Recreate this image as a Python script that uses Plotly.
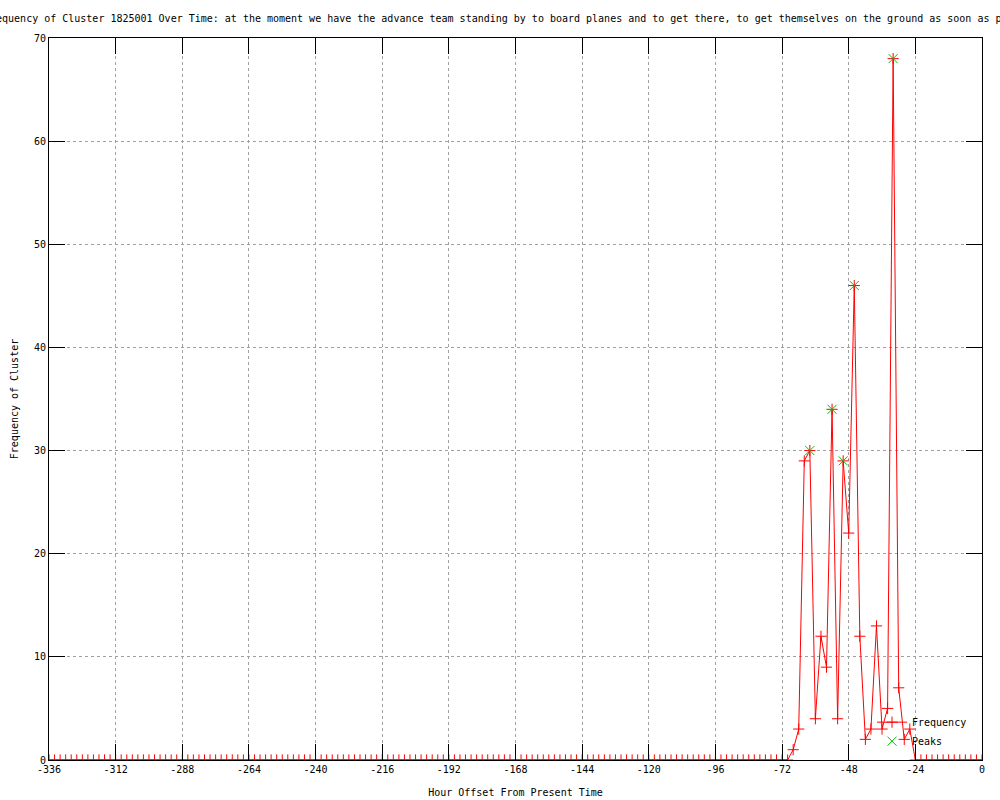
import plotly.graph_objects as go

# Hour offsets (every 2 hours from -336 to 0)
hours = list(range(-336, 1, 2))

frequency = [
    0, 0, 0, 0, 0, 0, 0, 0, 0, 0, 0, 0, 0, 0, 0, 0, 0, 0, 0, 0,
    0, 0, 0, 0, 0, 0, 0, 0, 0, 0, 0, 0, 0, 0, 0, 0, 0, 0, 0, 0,
    0, 0, 0, 0, 0, 0, 0, 0, 0, 0, 0, 0, 0, 0, 0, 0, 0, 0, 0, 0,
    0, 0, 0, 0, 0, 0, 0, 0, 0, 0, 0, 0, 0, 0, 0, 0, 0, 0, 0, 0,
    0, 0, 0, 0, 0, 0, 0, 0, 0, 0, 0, 0, 0, 0, 0, 0, 0, 0, 0, 0,
    0, 0, 0, 0, 0, 0, 0, 0, 0, 0, 0, 0, 0, 0, 0, 0, 0, 0, 0, 0,
    0, 0, 0, 0, 0, 0, 0, 0, 0, 0, 0, 0, 0, 0,
    1, 3, 29, 30, 4, 12, 9, 34, 4, 29, 22, 46, 12, 2, 3, 13, 3, 5, 68, 7, 2, 3,
    0, 0, 0, 0, 0, 0, 0, 0, 0, 0, 0, 0, 0,
]

peak_hours = [-62, -54, -50, -46, -32]
peak_values = [30, 34, 29, 46, 68]

x_ticks = [-336, -312, -288, -264, -240, -216, -192, -168, -144, -120, -96, -72, -48, -24, 0]
y_ticks = [0, 10, 20, 30, 40, 50, 60, 70]

title_text = ("Frequency of Cluster 1825001 Over Time: at the moment we have the advance team "
              "standing by to board planes and to get there, to get themselves on the ground "
              "as soon as possible")

FONT = "DejaVu Sans Mono"

fig = go.Figure()
fig.add_trace(go.Scatter(
    x=hours, y=frequency, mode="lines+markers", name="Frequency",
    line=dict(color="#ff0000", width=1),
    marker=dict(symbol="cross-thin", size=8, line=dict(color="#ff0000", width=1), color="#ff0000"),
))
fig.add_trace(go.Scatter(
    x=peak_hours, y=peak_values, mode="markers", name="Peaks",
    marker=dict(symbol="x-thin", size=9, line=dict(color="#00c000", width=1), color="#00c000"),
))

axis_common = dict(
    showline=True, linecolor="black", linewidth=1, mirror="allticks",
    ticks="inside", ticklen=16, tickcolor="black", tickwidth=1,
    showgrid=True, gridcolor="#a0a0a0", griddash="3px,3px", gridwidth=1,
    zeroline=False, automargin=False, tickfont=dict(family=FONT, size=10, color="black"),
)

fig.update_xaxes(range=[-336, 0], tickvals=x_ticks, ticktext=[str(v) for v in x_ticks],
                 title=dict(text="Hour Offset From Present Time", font=dict(family=FONT, size=10, color="black"), standoff=14),
                 **axis_common)
fig.update_yaxes(range=[0, 70], tickvals=y_ticks,
                 title=dict(text="Frequency of Cluster", font=dict(family=FONT, size=10, color="black"), standoff=13),
                 **axis_common)

fig.update_layout(
    width=1000, height=800,
    margin=dict(l=49, r=18, t=38, b=40),
    paper_bgcolor="white", plot_bgcolor="white",
    font=dict(family=FONT, size=10, color="black"),
    legend=dict(x=(872 - 49) / 933, xanchor="left", y=0.006, yanchor="bottom",
                bgcolor="rgba(0,0,0,0)", font=dict(family=FONT, size=10, color="black"),
                tracegroupgap=0, itemwidth=30),
    showlegend=True,
)
fig.add_annotation(text=title_text, xref="paper", yref="paper",
                   x=(-18 - 49) / 933, xanchor="left", y=1 + 20 / 722, yanchor="middle",
                   showarrow=False, font=dict(family=FONT, size=10, color="black"))

fig.write_html("out.html", config={"displayModeBar": False},
               post_script="document.body.style.margin='0';")
